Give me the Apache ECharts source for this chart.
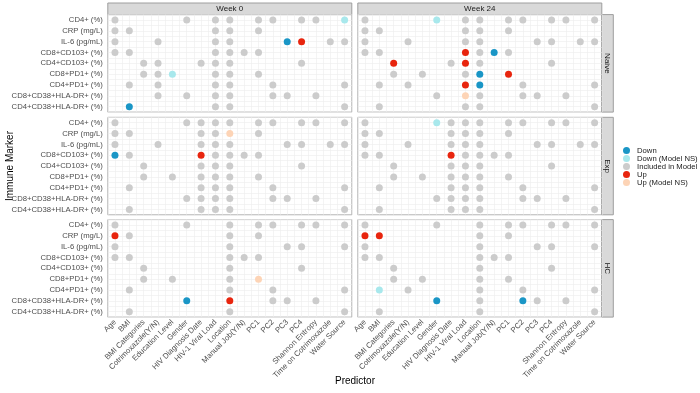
<!DOCTYPE html>
<html>
<head>
<meta charset="utf-8">
<title>Immune Marker vs Predictor</title>
<script src="https://cdn.jsdelivr.net/npm/echarts@6.0.0/dist/echarts.min.js"></script>
<style>
  html, body { margin: 0; padding: 0; background: #fff; }
  #chart { width: 700px; height: 393px; }
</style>
</head>
<body>
<div id="chart"></div>
<script>
var predictors = ['Age', 'BMI', 'BMI Categories', 'Cotrimoxazole(Y/N)', 'Education Level', 'Gender',
    'HIV Diagnosis Date', 'HIV-1 Viral Load', 'Location', 'Manual Job(Y/N)', 'PC1', 'PC2', 'PC3', 'PC4',
    'Shannon Entropy', 'Time on Cotrimoxazole', 'Water Source'];
var markers = ['CD4+ (%)', 'CRP (mg/L)', 'IL-6 (pg/mL)', 'CD8+CD103+ (%)', 'CD4+CD103+ (%)',
    'CD8+PD1+ (%)', 'CD4+PD1+ (%)', 'CD8+CD38+HLA-DR+ (%)', 'CD4+CD38+HLA-DR+ (%)'];
var weeks = ['Week 0', 'Week 24'];
var groups = ['Naive', 'Exp', 'HC'];

var statusNames = ['Down', 'Down (Model NS)', 'Included in Model', 'Up', 'Up (Model NS)'];
var statusCodes = ['D', 'd', 'g', 'U', 'u'];
var statusColors = ['#1A96C6', '#A8E8EC', '#CCCCCC', '#E8250E', '#FDD4B6'];

// one string per marker, one character per predictor (. = not in model)
var naiveWeek0 = [
    'g....g.gg.gg.gg.d',
    'gg.....gg.g......',
    'g..g...gg...DU.gg',
    'gg.....gggg......',
    '..gg..ggg....g...',
    '..ggd..gg.g......',
    '.g.g...gg..g....g',
    '...g.g.gg..gg.g..',
    '.D.....gg.......g'
];
var naiveWeek24 = [
    'g....d.gg.gg.gg.g',
    'gg.....gg.g......',
    'g..g...gg...gg.gg',
    'gg.....UgDg......',
    '..U...gUg....g...',
    '..g.g..gD.U......',
    '.g.g...UD..g....g',
    '.....g.ug..gg.g..',
    '.g.....gg.......g'
];
var expWeek0 = [
    'g....gggg.gg.gg.g',
    'gg....ggu.g......',
    'g..g..ggg...gg.gg',
    'Dg....Ugggg......',
    '..g...ggg....g...',
    '..g.g.ggg.g......',
    '.g....ggg..g....g',
    '.....gggg..gg.g..',
    '.g....ggg.......g'
];
var expWeek24 = [
    'g....dggg.gg.gg.g',
    'gg....ggg.g......',
    'g..g..ggg...gg.gg',
    'gg....Ugggg......',
    '..g...ggg....g...',
    '..g.g.ggg.g......',
    '.g....ggg..g....g',
    '.....gggg..gg.g..',
    '.g....ggg.......g'
];
var hcWeek0 = [
    'g....g..g.gg.gg.g',
    'Ug......g.g......',
    'g.......g...gg..g',
    'gg......ggg......',
    '..g.....g....g...',
    '..g.g...g.u......',
    '.g......g..g....g',
    '.....D..U..gg.g..',
    '.g......g.......g'
];
var hcWeek24 = [
    'g....g..g.gg.gg.g',
    'UU......g.g......',
    'g.......g...gg..g',
    'gg......ggg......',
    '..g.....g....g...',
    '..g.g...g.g......',
    '.d.g....g..g....g',
    '.....D..g..Dg.g..',
    '.g......g.......g'
];
var panels = [[naiveWeek0, naiveWeek24], [expWeek0, expWeek24], [hcWeek0, hcWeek24]];

var colLeft = [107.8, 357.8], panelW = 244;
var rowTop = [14.6, 117.3, 219.6], panelH = 97.5;
var labelFont = 'Liberation Sans, Arial, sans-serif';

var grids = [], xAxes = [], yAxes = [], series = [], graphics = [];

for (var r = 0; r < groups.length; r++) {
    for (var c = 0; c < weeks.length; c++) {
        var gi = r * 2 + c;
        grids.push({
            left: colLeft[c], top: rowTop[r], width: panelW, height: panelH,
            show: true, backgroundColor: '#fff', borderColor: '#B3B3B3', borderWidth: 1
        });
        xAxes.push({
            type: 'value', gridIndex: gi, min: -0.5, max: 16.5, interval: 0.5,
            axisLine: { show: false }, axisTick: { show: false },
            splitLine: { show: true, lineStyle: { color: '#EDEDED', width: 0.6 } },
            axisLabel: {
                show: r === groups.length - 1, rotate: 45, margin: 4,
                fontSize: 7.7, color: '#4D4D4D', fontFamily: labelFont,
                formatter: function (v) { return Number.isInteger(v) ? predictors[v] : ''; }
            }
        });
        yAxes.push({
            type: 'value', gridIndex: gi, min: -0.5, max: 8.5, interval: 0.5, inverse: true,
            axisLine: { show: false }, axisTick: { show: false },
            splitLine: { show: true, lineStyle: { color: '#EDEDED', width: 0.6 } },
            axisLabel: {
                show: c === 0, margin: 5,
                fontSize: 7.7, color: '#4D4D4D', fontFamily: labelFont,
                formatter: function (v) { return Number.isInteger(v) ? markers[v] : ''; }
            }
        });
        var rows = panels[r][c];
        for (var s = 0; s < statusCodes.length; s++) {
            var pts = [];
            for (var m = 0; m < rows.length; m++) {
                for (var p = 0; p < predictors.length; p++) {
                    if (rows[m].charAt(p) === statusCodes[s]) pts.push([p, m]);
                }
            }
            series.push({
                name: statusNames[s], type: 'scatter', xAxisIndex: gi, yAxisIndex: gi,
                symbolSize: 7, itemStyle: { color: statusColors[s], opacity: 1 },
                silent: true, data: pts
            });
        }
    }
}

// facet strips
for (var c2 = 0; c2 < weeks.length; c2++) {
    graphics.push({
        type: 'group', children: [
            { type: 'rect', shape: { x: colLeft[c2], y: 3, width: panelW, height: rowTop[0] - 3 },
              style: { fill: '#D9D9D9', stroke: '#9E9E9E', lineWidth: 1 } },
            { type: 'text', x: colLeft[c2] + panelW / 2, y: (3 + rowTop[0]) / 2,
              style: { text: weeks[c2], fill: '#1A1A1A', font: '8px ' + labelFont,
                       textAlign: 'center', textVerticalAlign: 'middle' } }
        ]
    });
}
for (var r2 = 0; r2 < groups.length; r2++) {
    var sx = colLeft[1] + panelW;
    graphics.push({
        type: 'group', children: [
            { type: 'rect', shape: { x: sx, y: rowTop[r2], width: 11.5, height: panelH },
              style: { fill: '#D9D9D9', stroke: '#9E9E9E', lineWidth: 1 } },
            { type: 'text', x: sx + 5.75, y: rowTop[r2] + panelH / 2, rotation: -Math.PI / 2,
              style: { text: groups[r2], fill: '#1A1A1A', font: '8px ' + labelFont,
                       textAlign: 'center', textVerticalAlign: 'middle' } }
        ]
    });
}
// axis titles
graphics.push({
    type: 'text', x: 10, y: 166, rotation: Math.PI / 2,
    style: { text: 'Immune Marker', fill: '#000', font: '10px ' + labelFont,
             textAlign: 'center', textVerticalAlign: 'middle' }
});
graphics.push({
    type: 'text', x: 355, y: 381,
    style: { text: 'Predictor', fill: '#000', font: '10px ' + labelFont,
             textAlign: 'center', textVerticalAlign: 'middle' }
});

var myChart = echarts.init(document.getElementById('chart'));
var option = {
    animation: false,
    textStyle: { fontFamily: labelFont },
    legend: {
        data: statusNames, orient: 'vertical', left: 623, top: 146.5, padding: 0,
        icon: 'circle', itemWidth: 7, itemHeight: 7, itemGap: 0,
        selectedMode: false,
        textStyle: { fontSize: 7.7, color: '#1A1A1A', fontFamily: labelFont, padding: [0, 0, 0, 2] }
    },
    grid: grids,
    xAxis: xAxes,
    yAxis: yAxes,
    series: series,
    graphic: graphics
};
myChart.setOption(option);
</script>
</body>
</html>
